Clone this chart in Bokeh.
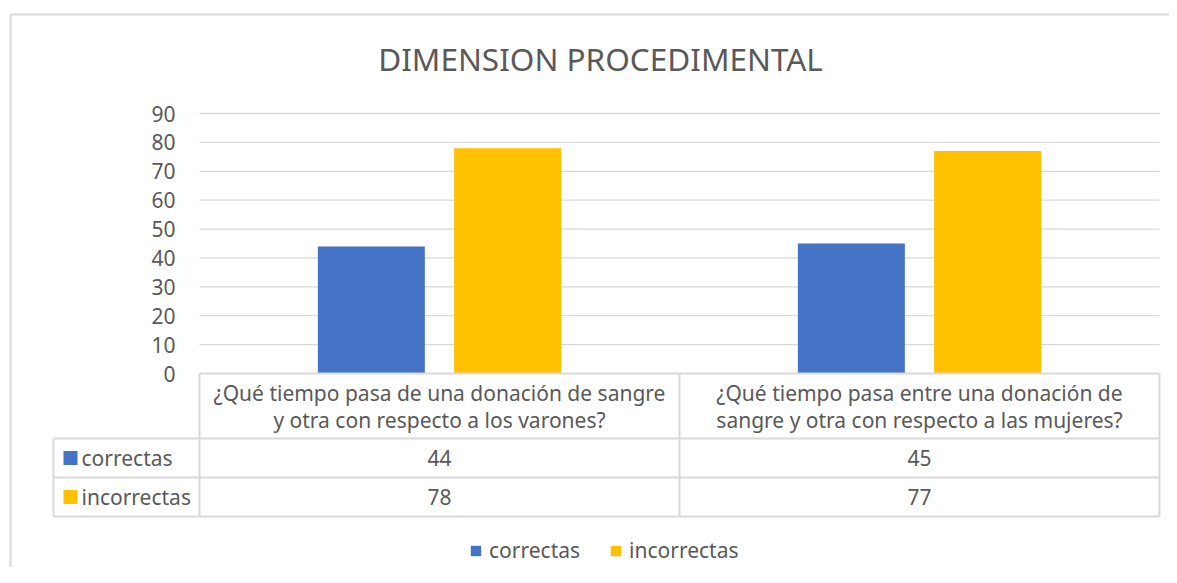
from bokeh.plotting import figure
from bokeh.models import Range1d, FixedTicker, Legend, LegendItem
from bokeh.core.properties import value
from bokeh.embed import file_html
from bokeh.resources import INLINE

# ---------------- data ----------------
title_text = "DIMENSION PROCEDIMENTAL"
categories = [
    "¿Qué tiempo pasa de una donación de sangre\ny otra con respecto a los varones?",
    "¿Qué tiempo pasa entre una donación de\nsangre y otra con respecto a las mujeres?",
]
series_names = ["correctas", "incorrectas"]
correctas = [44, 45]
incorrectas = [78, 77]
y_ticks = [0, 10, 20, 30, 40, 50, 60, 70, 80, 90]

# ---------------- layout / style ----------------
FONT = "Noto Sans"
TXT = "#595959"
GRID = "#D9D9D9"
BLUE = "#4472C4"
YELLOW = "#FFC000"
FS = "21px"

PX_PER_GROUP = 480.0
GROUP0_PX = 439.0
ZERO_PX = 373.0
PX_PER_UNIT = 260.0 / 90.0
ORIGIN = 0  # canvas top-left in page pixels


def X(px):
    return (px - GROUP0_PX) / PX_PER_GROUP


def Y(py):
    return (ZERO_PX - py) / PX_PER_UNIT


W, H = 1169, 567
p = figure(width=W, height=H, output_backend="svg", toolbar_location=None,
           x_range=Range1d(X(ORIGIN), X(ORIGIN + W)),
           y_range=Range1d(Y(ORIGIN + H), Y(ORIGIN)),
           min_border=0, min_border_left=0, min_border_right=0,
           min_border_top=0, min_border_bottom=0)
p.outline_line_color = None
p.xgrid.visible = False
p.ygrid.visible = False
p.xaxis.visible = False
p.background_fill_color = "white"
p.border_fill_color = "white"

# chart border (top and left visible)
p.segment(x0=[X(10), X(10)], y0=[Y(14), Y(14)], x1=[X(1177), X(10)], y1=[Y(14), Y(600)],
          line_color="#D9D9D9", line_width=2)

# title
p.text(x=[X(600)], y=[Y(58)], text=[title_text], text_font=value(FONT),
       text_font_size="31.5px", text_color=TXT, text_align="center", text_baseline="middle")

# gridlines
gx0 = X(199)
gx1 = X(1159)
grid_y = [t for t in y_ticks if t > 0]
p.segment(x0=[gx0] * len(grid_y), y0=grid_y, x1=[gx1] * len(grid_y), y1=grid_y,
          line_color=GRID, line_width=1.3)

# y axis (fixed inside the frame)
ax = p.yaxis[0]
ax.fixed_location = -0.5
ax.ticker = FixedTicker(ticks=y_ticks)
ax.axis_line_color = None
ax.major_tick_line_color = None
ax.minor_tick_line_color = None
ax.major_label_standoff = 18
ax.major_label_text_font = FONT
ax.major_label_text_font_size = FS
ax.major_label_text_color = TXT

# bars
xs = list(range(len(categories)))
off = 0.142
bw = 107.0 / PX_PER_GROUP
r1 = p.vbar(x=[x - off for x in xs], top=correctas, width=bw, bottom=0,
            fill_color=BLUE, line_color=None)
r2 = p.vbar(x=[x + off for x in xs], top=incorrectas, width=bw, bottom=0,
            fill_color=YELLOW, line_color=None)

# data table lines
TL = 2
hx0 = [X(199), X(53), X(53), X(53)]
hy = [Y(373), Y(438), Y(477), Y(516)]
hx1 = [X(1159)] * 4
p.segment(x0=hx0, y0=hy, x1=hx1, y1=hy, line_color=GRID, line_width=TL)
vx = [X(53), X(199), X(679), X(1159)]
vy0 = [Y(438), Y(373), Y(373), Y(373)]
vy1 = [Y(516)] * 4
p.segment(x0=vx, y0=vy0, x1=vx, y1=vy1, line_color=GRID, line_width=TL)

# header texts
p.text(x=xs, y=[Y(406)] * len(xs), text=categories, text_font=value(FONT),
       text_font_size=FS, text_color=TXT, text_align="center",
       text_baseline="middle", text_line_height=0.98)

# value rows
row_y = [Y(457.5), Y(496.5)]
p.text(x=xs, y=[row_y[0]] * len(xs), text=[str(v) for v in correctas], text_font=value(FONT),
       text_font_size=FS, text_color=TXT, text_align="center", text_baseline="middle")
p.text(x=xs, y=[row_y[1]] * len(xs), text=[str(v) for v in incorrectas], text_font=value(FONT),
       text_font_size=FS, text_color=TXT, text_align="center", text_baseline="middle")

# row labels with keys
p.scatter(x=[X(70), X(70)], y=row_y, marker="square", size=14,
          fill_color=[BLUE, YELLOW], line_color=None)
p.text(x=[X(81), X(81)], y=row_y, text=series_names, text_font=value(FONT),
       text_font_size=FS, text_color=TXT, text_align="left", text_baseline="middle")

# legend
legend = Legend(items=[LegendItem(label=series_names[0], renderers=[r1]),
                       LegendItem(label=series_names[1], renderers=[r2])],
                orientation="horizontal", location=(469 - ORIGIN, 3),
                padding=0, margin=0, spacing=29, label_standoff=7,
                glyph_width=13, glyph_height=13,
                label_text_font=FONT, label_text_font_size=FS,
                label_text_color=TXT, border_line_color=None,
                background_fill_alpha=0)
p.add_layout(legend)

open("out.html", "w").write(file_html(p, INLINE))
